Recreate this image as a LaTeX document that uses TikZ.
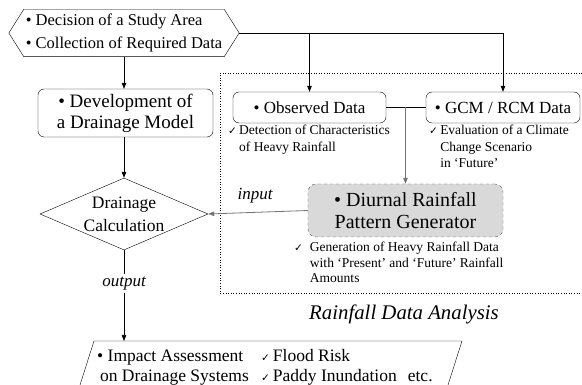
\documentclass[tikz,border=0pt]{standalone}
\usepackage{fontspec}
\setmainfont{Liberation Serif}
\newfontfamily\symfont{DejaVu Sans}
\usetikzlibrary{shapes.geometric,arrows.meta}
\newcommand{\chk}{{\symfont\fontsize{10.5}{10.5}\selectfont ✓}}
\newcommand{\notesize}{\fontsize{13.5}{16.5}\selectfont}
\definecolor{genfill}{HTML}{D9D9D9}

\begin{document}
\begin{tikzpicture}
[x=1pt,y=-1pt,
  lineDecorate/.style={-{Triangle[length=6pt,width=4.5pt]},semithick},%
  grayDecorate/.style={draw=black!55,thick},%
  boxDecorate/.style={draw,rounded corners=6pt,inner sep=0pt,align=center,font=\fontsize{17}{21}\selectfont},%
  noteDecorate/.style={anchor=base west,inner sep=0pt,font=\notesize}]
\useasboundingbox (0,0) rectangle (582,385);
%% frame of the rainfall data analysis
\draw[dotted,semithick] (582,73) -- (220,73) -- (220,293) -- (582,293);
\node (frameTitle) at (404,314) {\fontsize{20.8}{20.8}\selectfont\itshape Rainfall Data Analysis};
%% start (hexagon)
\node (start) at (124,33) [minimum width=230pt,minimum height=47pt,inner sep=0pt,align=left,
  font=\fontsize{16.5}{22}\selectfont]
  {• Decision of a Study Area\\[1pt]• Collection of Required Data};
\draw (start.west) -- ([xshift=15pt]start.north west) -- ([xshift=-15pt]start.north east)
  -- (start.east) -- ([xshift=-15pt]start.south east) -- ([xshift=15pt]start.south west) -- cycle;
%% boxes
\node (dev) at (125.5,113) [boxDecorate,minimum width=175pt,minimum height=48pt,
  font=\fontsize{19}{21}\selectfont]
  {• Development of\\a Drainage Model};
\node (obs) at (309.5,107.5) [boxDecorate,minimum width=153pt,minimum height=31pt]
  {• Observed Data};
\node (gcm) at (503,107.5) [boxDecorate,minimum width=154pt,minimum height=31pt]
  {• GCM / RCM Data};
\node (gen) at (405.5,210.5) [boxDecorate,rounded corners=8pt,fill=genfill,draw=black!65,dashed,
  minimum width=195pt,minimum height=53pt,font=\fontsize{20}{22}\selectfont]
  {• Diurnal Rainfall\\Pattern Generator};
\node (calc) at (124,214) [draw,diamond,aspect=2.33,inner sep=-8pt,minimum width=168pt,
  minimum height=72pt,align=center,font=\fontsize{17.5}{23}\selectfont] {Drainage\\Calculation};
%% notes
\node (obsNote) at (228,135) [noteDecorate]
  {\begin{tabular}[t]{@{}l@{\,}l@{}}\chk & Detection of Characteristics\\ & of Heavy Rainfall\end{tabular}};
\node (gcmNote) at (429,135) [noteDecorate]
  {\begin{tabular}[t]{@{}l@{\,}l@{}}\chk & Evaluation of a Climate\\ & Change Scenario\\ & in ‘Future’\end{tabular}};
\node (genNote) at (294,252) [noteDecorate,font=\fontsize{13.5}{15.5}\selectfont]
  {\begin{tabular}[t]{@{}l@{\hspace{7pt}}l@{}}\chk & Generation of Heavy Rainfall Data\\ & with ‘Present’ and ‘Future’ Rainfall\\ & Amounts\end{tabular}};
%% impact (open parallelogram)
\coordinate (impactTop) at (124,341);
\draw (80,385) -- (94,341) -- (462,341) -- (448,385);
\node (impact) at (97,362) [anchor=base west,inner sep=0pt,font=\fontsize{17.5}{19.5}\selectfont]
  {\begin{tabular}[t]{@{}l@{}}• Impact Assessment\\\,on Drainage Systems\end{tabular}};
\node (impactNote) at (261,362) [anchor=base west,inner sep=0pt,font=\fontsize{17.5}{19.5}\selectfont]
  {\begin{tabular}[t]{@{}l@{\,}l@{}}\chk & Flood Risk\\\chk & Paddy Inundation\hspace{11pt}etc.\end{tabular}};
%% connectors
\path[semithick]
  (start.east) edge[-] (gcm.north |- start.east)
  (start.south) edge[lineDecorate] (start.south |- dev.north)
  (obs.north |- start.east) edge[lineDecorate] (obs.north)
  (gcm.north |- start.east) edge[lineDecorate] (gcm.north)
  (dev.south -| calc.north) edge[lineDecorate] (calc.north)
  (obs.east) edge[-] (gcm.west)
  (gen.north |- obs.east) edge[lineDecorate,grayDecorate] (gen.north)
  (gen.west) edge[lineDecorate,grayDecorate] node[above=6pt,pos=0.53,font=\fontsize{17}{17}\selectfont\itshape] {input} (calc.east)
  (calc.south) edge[lineDecorate] node[fill=white,inner sep=3pt,pos=0.37,font=\fontsize{17}{17}\selectfont\itshape] {output} (impactTop);
\end{tikzpicture}
\end{document}
